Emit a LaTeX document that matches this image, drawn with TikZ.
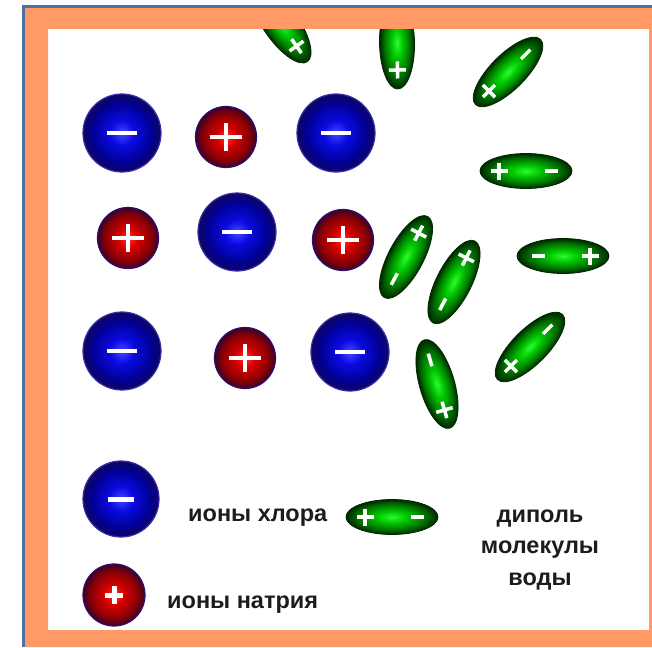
\documentclass[tikz,border=0pt]{standalone}
\usepackage{fontspec}
\setmainfont{Liberation Sans}

% colours
\definecolor{framefill}{RGB}{255,153,102}
\definecolor{frameline}{RGB}{80,112,158}
\definecolor{labelgray}{RGB}{28,28,28}
\definecolor{clA}{RGB}{70,70,255}
\definecolor{clB}{RGB}{10,10,225}
\definecolor{clC}{RGB}{0,0,150}
\definecolor{clD}{RGB}{15,5,95}
\definecolor{clrim}{RGB}{55,45,170}
\definecolor{naA}{RGB}{255,50,40}
\definecolor{naB}{RGB}{215,0,0}
\definecolor{naC}{RGB}{135,0,5}
\definecolor{naD}{RGB}{60,0,40}
\definecolor{narim}{RGB}{45,15,115}
\definecolor{gA}{RGB}{50,250,50}
\definecolor{gB}{RGB}{0,200,0}
\definecolor{gC}{RGB}{0,115,0}
\definecolor{gD}{RGB}{0,40,0}

% sphere and ellipsoid shadings
\pgfdeclareradialshading{clball}{\pgfpointorigin}{%
  color(0bp)=(clA); color(8bp)=(clB); color(19bp)=(clC); color(25bp)=(clD); color(50bp)=(clD)}
\pgfdeclareradialshading{naball}{\pgfpointorigin}{%
  color(0bp)=(naA); color(8bp)=(naB); color(19bp)=(naC); color(25bp)=(naD); color(50bp)=(naD)}
\pgfdeclareradialshading{dipoleshade}{\pgfpointorigin}{%
  color(0bp)=(gA); color(8bp)=(gB); color(18bp)=(gC); color(25bp)=(gD); color(50bp)=(gD)}

% one water dipole: centre x, centre y, axis angle, side of the plus sign (1 or -1)
\newcommand\drawdipole[4]{%
  \begin{scope}[transform canvas={shift={(#1,#2)},rotate=#3}]
    \shade[shading=dipoleshade, draw=gD, line width=0.8] (0,0) ellipse (46 and 17.5);
    \draw[sign, line width=3.5] ({(#4)*27-8.5},0) -- ++(17,0)
                                 ({(#4)*27},-8.5) -- ++(0,17);
    \draw[sign, line width=3.5] ({-(#4)*25-6.5},0) -- ++(13,0);
  \end{scope}}

\begin{document}
\begin{tikzpicture}[x=1pt,y=-1pt,
  clion/.style={circle, inner sep=0, minimum size=78, shade, shading=clball,
                draw=clrim, line width=1.2},
  naion/.style={circle, inner sep=0, minimum size=61, shade, shading=naball,
                draw=narim, line width=1.2},
  sign/.style={white, line width=4},
  legendtext/.style={font=\bfseries\fontsize{23.5}{23.5}\selectfont, text=labelgray, inner sep=0},
]
\useasboundingbox (0,0) rectangle (652,647);
\fill[white] (0,0) rectangle (652,647);

% sodium chloride lattice
\node[clion] (cl1) at (122,133) {};
\node[naion] (na1) at (226,137) {};
\node[clion] (cl2) at (336,133) {};
\node[naion] (na2) at (128,238) {};
\node[clion] (cl3) at (237,232) {};
\node[naion] (na3) at (343,240) {};
\node[clion] (cl4) at (122,351) {};
\node[naion] (na4) at (245,358) {};
\node[clion] (cl5) at (350,352) {};

\foreach \n in {cl1,cl2,cl3,cl4,cl5}
  \draw[sign] ([xshift=-15pt]\n.center) -- ([xshift=15pt]\n.center);
\foreach \n in {na1,na2,na3,na4}
  \draw[sign] ([xshift=-16pt]\n.center) -- ([xshift=16pt]\n.center)
              ([yshift=-14pt]\n.center) -- ([yshift=14pt]\n.center);

% legend ions
\node[clion, minimum size=76] (clkey) at (121,499) {};
\node[naion, minimum size=62] (nakey) at (114,595) {};
\draw[sign, line width=5] ([xshift=-13pt]clkey.center) -- ([xshift=13pt]clkey.center);
\draw[sign, line width=5] ([xshift=-9pt]nakey.center) -- ([xshift=9pt]nakey.center)
                          ([yshift=-9pt]nakey.center) -- ([yshift=9pt]nakey.center);

% water dipoles
\begin{scope}
  \clip (48,29) rectangle (649,630);
  \drawdipole{281}{24}{-55}{1}
  \drawdipole{397}{43}{-89}{1}
  \drawdipole{508}{72}{45}{-1}
  \drawdipole{526}{171}{0}{-1}
  \drawdipole{406}{257}{62}{1}
  \drawdipole{454}{282}{63}{1}
  \drawdipole{563}{256}{0}{1}
  \drawdipole{530}{347}{45}{-1}
  \drawdipole{437}{384}{-74}{1}
  \drawdipole{392}{517}{0}{-1}
\end{scope}
\coordinate (dipkey) at (392,517);

% legend labels
\node[legendtext, anchor=base west] (cllabel) at (188,521) {ионы хлора};
\node[legendtext, anchor=base west] (nalabel) at (167,608) {ионы натрия};
\node[legendtext, anchor=base] (dip1) at (540,522) {диполь};
\node[legendtext, anchor=base] (dip2) at (540,553) {молекулы};
\node[legendtext, anchor=base] (dip3) at (540,585) {воды};

% frame
\fill[framefill, even odd rule] (25,8) rectangle (652,647) (48,29) rectangle (649,630);
\draw[frameline, line width=3] (23.5,647) -- (23.5,6.5) -- (652,6.5);
\end{tikzpicture}
\end{document}
